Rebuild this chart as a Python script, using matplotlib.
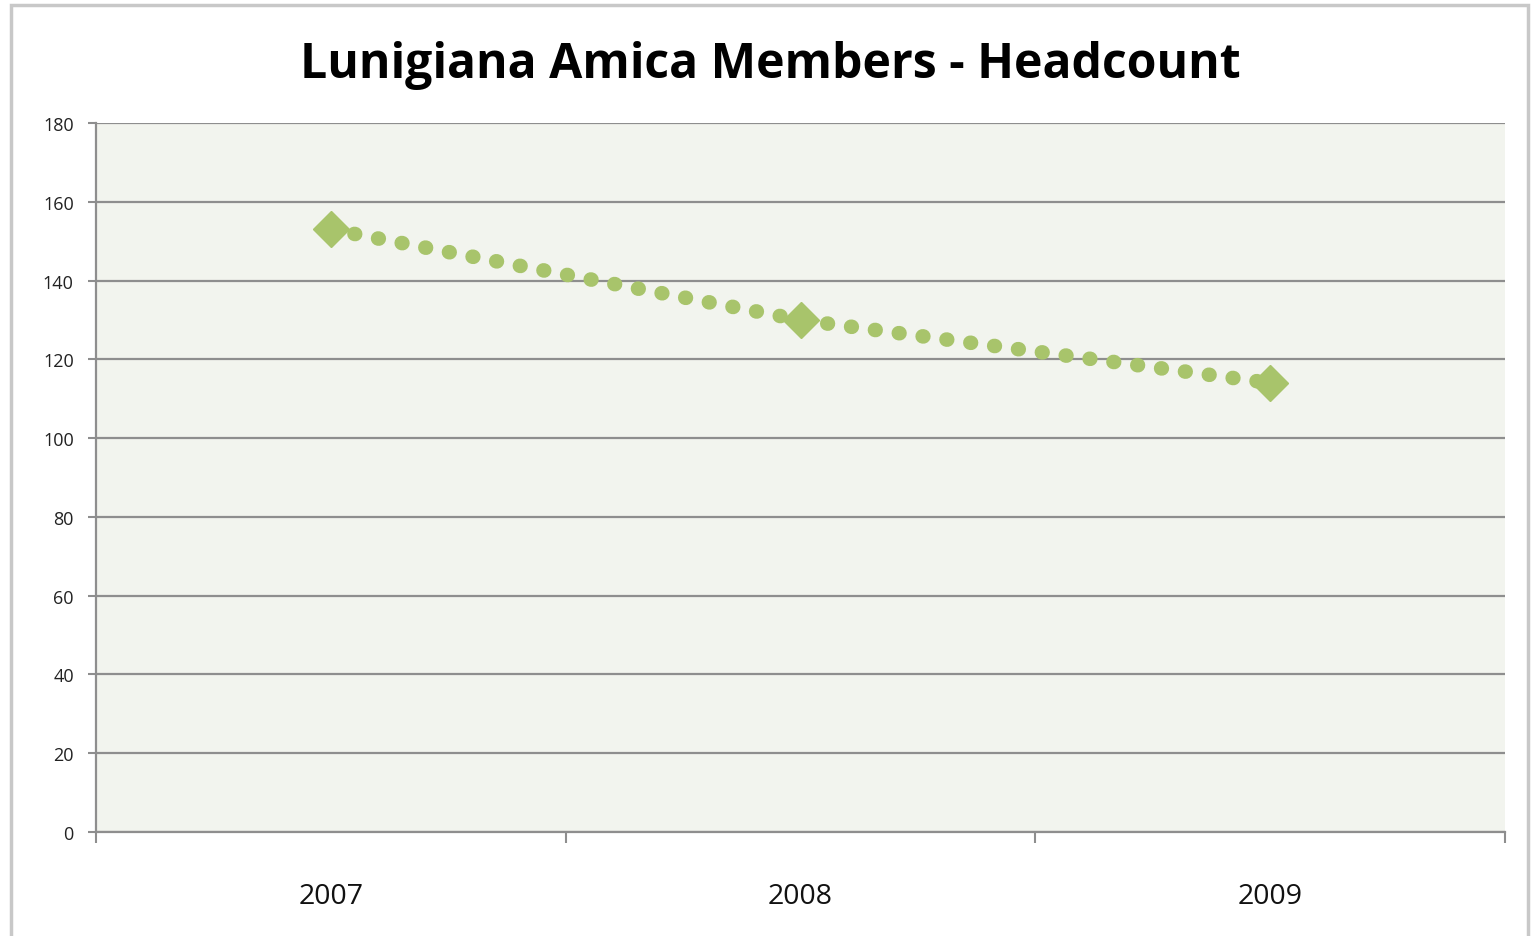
import numpy as np
import matplotlib.pyplot as plt
from matplotlib.patches import Rectangle

years = ['2007', '2008', '2009']
headcount = [153, 130, 114]
y_ticks = [0, 20, 40, 60, 80, 100, 120, 140, 160, 180]

green = '#a8c46b'
grid_gray = '#8e8e8e'

plt.rcParams['font.family'] = ['Open Sans', 'DejaVu Sans']

fig = plt.figure(figsize=(15.34, 9.37), dpi=100)
ax = fig.add_axes([96/1534, 104/937, (1505-96)/1534, (833-124)/937])
ax.set_facecolor('#f2f4ee')

x = np.arange(len(years))
# dotted connector, round dots
ax.plot(x, headcount, color=green, lw=10.5, linestyle=(0, (0.05, 1.6)),
        dash_capstyle='round', zorder=3)
ax.plot(x, headcount, linestyle='none', marker='D', ms=18,
        color=green, zorder=4)

ax.set_xlim(-0.5, len(years) - 0.5)
ax.set_ylim(0, 180)
ax.set_yticks(y_ticks)
ax.set_yticklabels([str(v) for v in y_ticks], fontsize=13, color='#222222')
ax.yaxis.grid(True, color=grid_gray, lw=1.6)
ax.set_axisbelow(True)

# category labels centred, ticks at the boundaries
ax.set_xticks(x)
ax.set_xticklabels(years, fontsize=20.5, color='#111111')
ax.set_xticks(np.arange(-0.5, len(years)), minor=True)
ax.tick_params(axis='x', which='major', length=0, pad=36)
ax.tick_params(axis='x', which='minor', length=8, width=1.5, color=grid_gray, direction='out')
ax.tick_params(axis='y', length=6, width=1.5, color=grid_gray, pad=10)

for s in ['top', 'right']:
    ax.spines[s].set_visible(False)
for s in ['left', 'bottom']:
    ax.spines[s].set_color(grid_gray)
    ax.spines[s].set_linewidth(1.6)

fig.suptitle('Lunigiana Amica Members - Headcount', x=770/1534, y=1 - 66/937,
             va='center', fontsize=34.7, fontweight='bold', color='#000000')

# chart frame
fig.patches.append(Rectangle((11/1534, -0.05), (1528-11)/1534, 1.05 - 6/937,
                             transform=fig.transFigure, fill=False,
                             edgecolor='#c8c8c8', lw=2.5))

fig.savefig('out.png', dpi=100)
